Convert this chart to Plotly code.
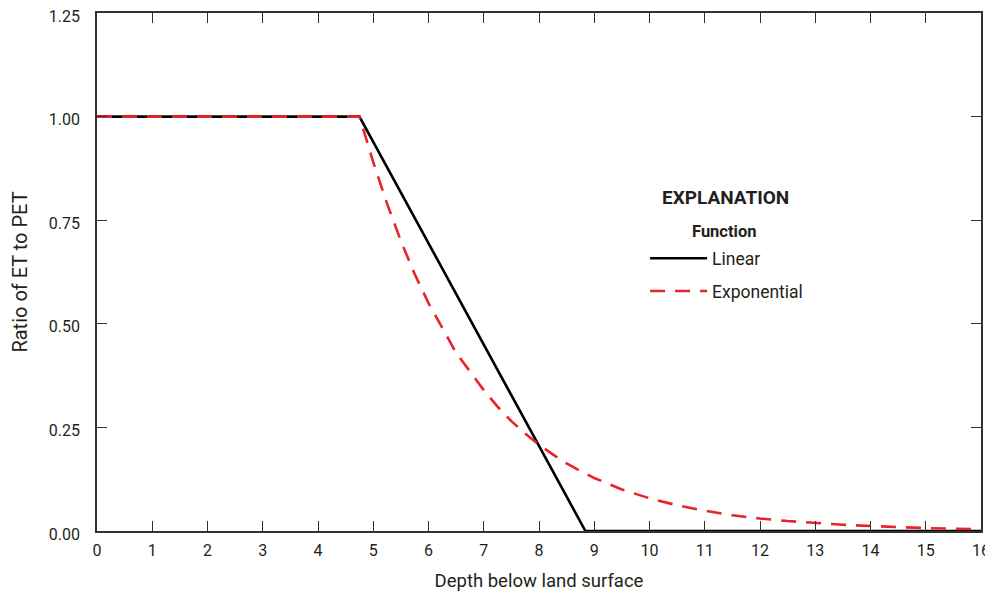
import plotly.graph_objects as go

# Data
linear_depth = [0, 4.75, 8.84, 16]
linear_ratio = [1.0, 1.0, 0.0, 0.0]

exp_depth = [0, 4.75, 5.0, 5.25, 5.5, 5.75, 6.0, 6.25, 6.5, 6.75, 7.0, 7.25, 7.5,
             7.75, 8.0, 8.25, 8.5, 8.75, 9.0, 9.5, 10.0, 10.5, 11.0, 11.5, 12.0,
             12.5, 13.0, 13.5, 14.0, 14.5, 15.0, 15.5, 16.0]
exp_ratio = [1.0, 1.0, 0.89, 0.79, 0.70, 0.62, 0.55, 0.49, 0.43, 0.385, 0.34, 0.30, 0.265,
             0.235, 0.208, 0.185, 0.163, 0.145, 0.128, 0.10, 0.079, 0.062, 0.049, 0.038, 0.030,
             0.024, 0.019, 0.015, 0.012, 0.009, 0.007, 0.0055, 0.0045]

x_ticks = list(range(0, 17))
y_ticks = [0, 0.25, 0.5, 0.75, 1.0, 1.25]

FONT = "Roboto, Arial, sans-serif"
TXT = "#231f20"

fig = go.Figure()
fig.add_trace(go.Scatter(x=linear_depth, y=linear_ratio, mode="lines", name="Linear",
                         line=dict(color="black", width=2.6), legendgroup="a",
                         cliponaxis=False))
fig.add_trace(go.Scatter(x=exp_depth, y=exp_ratio, mode="lines", name="Exponential",
                         line=dict(color="#e8232b", width=2.6, dash="15px,10px"),
                         legendgroup="b", cliponaxis=False))

axis_common = dict(showgrid=False, zeroline=False, showline=True, linecolor="#333333",
                   linewidth=1.5, mirror="ticks", ticks="inside", ticklen=10,
                   tickcolor="#333333", tickwidth=1, automargin=False,
                   ticklabeloverflow="allow",
                   tickfont=dict(family=FONT, size=16, color=TXT))

fig.update_xaxes(range=[0, 16], tickvals=x_ticks, ticktext=[str(v) for v in x_ticks],
                 ticklabelstandoff=4,
                 title=dict(text="Depth below land surface", font=dict(family=FONT, size=18.5, color=TXT),
                            standoff=22),
                 **axis_common)
fig.update_yaxes(range=[0, 1.25], tickvals=y_ticks, ticktext=[f"{v:.2f}" for v in y_ticks],
                 ticklabelstandoff=12, ticklabelshift=3,
                 title=dict(text="Ratio of ET to PET", font=dict(family=FONT, size=20, color=TXT),
                            standoff=20),
                 **axis_common)

fig.add_annotation(text="<b>EXPLANATION</b>", xref="paper", yref="paper", x=0.7115, y=0.643,
                   xanchor="center", yanchor="middle",
                   showarrow=False, font=dict(family=FONT, size=19, color=TXT))
fig.add_annotation(text="<b>Function</b>", xref="paper", yref="paper", x=0.709, y=0.579,
                   xanchor="center", yanchor="middle",
                   showarrow=False, font=dict(family=FONT, size=16.5, color=TXT))

# The page body adds an 8px offset, so the figure is sized to fit the 993x600 window
# without scrollbars.
fig.update_layout(
    width=985, height=584,
    margin=dict(l=89, r=12, t=5, b=61),
    plot_bgcolor="white", paper_bgcolor="white",
    showlegend=True,
    legend=dict(x=0.62, y=0.561, xanchor="left", yanchor="top", bgcolor="rgba(0,0,0,0)",
                font=dict(family=FONT, size=17.5, color=TXT), tracegroupgap=7,
                traceorder="grouped", itemwidth=57),
)

fig.write_html("out.html")
